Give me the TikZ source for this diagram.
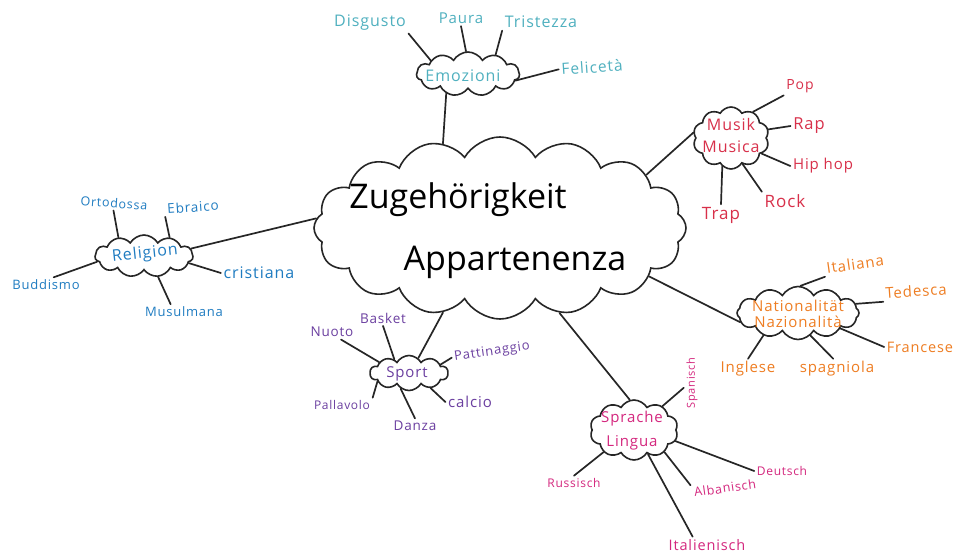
\documentclass[tikz,border=0pt]{standalone}
\usepackage{fontspec}
\setmainfont{Open Sans}
\newfontfamily\hand{Open Sans}[LetterSpace=6]
\usetikzlibrary{shapes.symbols}
\definecolor{emoc}{HTML}{4FB0BF}
\definecolor{musc}{HTML}{D8304A}
\definecolor{relc}{HTML}{1F7CC1}
\definecolor{sportc}{HTML}{6B3FA0}
\definecolor{natc}{HTML}{EE7D22}
\definecolor{sprc}{HTML}{D4277E}
\begin{document}
\begin{tikzpicture}[x=1pt,y=-1pt,
  cl/.style={cloud, draw=black!85, line width=1.6pt, cloud puffs=#1, cloud puff arc=120, cloud ignores aspect, inner sep=0pt},
  ctext/.style n args={2}{inner sep=0pt, align=center, font=\hand\fontsize{#1}{#2}\selectfont},
  lab/.style={inner sep=2.5pt, font=\hand\fontsize{#1}{#1}\selectfont},
  lk/.style={line width=1.7pt, line cap=round, draw=black!85}]
\fill[white] (0,0) rectangle (966,554);
\useasboundingbox (0,0) rectangle (966,554);

% central cloud
\node[cl=16, minimum width=372pt, minimum height=182pt] (main) at (500,228) {};
\node[inner sep=0pt, font=\fontsize{34}{40}\selectfont] (mainA) at (458,200) {Zugehörigkeit};
\node[inner sep=0pt, font=\fontsize{34}{40}\selectfont] (mainB) at (515,262) {Appartenenza};

% Emozioni
\node[cl=11, minimum width=103pt, minimum height=44pt] (emo) at (468,74) {};
\node[ctext={16}{18}, text=emoc] (emoT) at (463,76) {Emozioni};
\node[lab=16, text=emoc] (disg) at (370,23) {Disgusto};
\node[lab=15, text=emoc] (paura) at (461,18) {Paura};
\node[lab=16, text=emoc] (trist) at (541,22) {Tristezza};
\node[lab=15.5, text=emoc, rotate=4] (felic) at (592,67) {Felicetà};
\draw[lk] (emo.160) -- (disg.south east);
\draw[lk] (emo.95) -- (paura.south);
\draw[lk] (emo.35) -- (trist.south west);
\draw[lk] (emo.-8) -- (felic.west);
\draw[lk] (emo.-138) -- (main.124);

% Musik
\node[cl=10, minimum width=76pt, minimum height=62pt] (mus) at (731,138) {};
\node[ctext={16}{22}, text=musc] (musT) at (731,135) {Musik\\Musica};
\node[lab=14, text=musc] (pop) at (800,86) {Pop};
\node[lab=16.5, text=musc] (rap) at (809,126) {Rap};
\node[lab=15, text=musc] (hiphop) at (823,166) {Hip hop};
\node[lab=17, text=musc] (rock) at (785,201) {Rock};
\node[lab=17, text=musc] (trap) at (721,215) {Trap};
\draw[lk] (mus.50) -- (pop.south west);
\draw[lk] (mus.13) -- (rap.west);
\draw[lk] (mus.-27) -- (hiphop.west);
\draw[lk] (mus.-66) -- (rock.north west);
\draw[lk] (mus.-107) -- (trap.north);
\draw[lk] (main.20) -- (mus.172);

% Religion
\node[cl=11, minimum width=98pt, minimum height=42pt] (rel) at (144,256) {};
\node[ctext={16}{18}, text=relc, rotate=6] (relT) at (145,254) {Religion};
\node[lab=12.5, text=relc, rotate=-4] (orto) at (114,203) {Ortodossa};
\node[lab=13.5, text=relc, rotate=4] (ebr) at (193,207) {Ebraico};
\node[lab=16, text=relc] (crist) at (259,273) {cristiana};
\node[lab=13, text=relc] (musul) at (184,312) {Musulmana};
\node[lab=13, text=relc] (budd) at (46,285) {Buddismo};
\draw[lk] (rel.144) -- (orto.south);
\draw[lk] (rel.36) -- (ebr.south west);
\draw[lk] (rel.-9) -- (crist.west);
\draw[lk] (rel.-56) -- (musul.150);
\draw[lk] (rel.187) -- (budd.45);
\draw[lk] (rel.9) -- (main.177);

% Sport
\node[cl=10, minimum width=78pt, minimum height=35pt] (sport) at (409,373) {};
\node[ctext={15}{17}, text=sportc] (sportT) at (407,374) {Sport};
\node[lab=13.5, text=sportc] (nuoto) at (332,332) {Nuoto};
\node[lab=13.5, text=sportc] (basket) at (383,318) {Basket};
\node[lab=13, text=sportc, rotate=8] (patt) at (492,352) {Pattinaggio};
\node[lab=15, text=sportc] (calcio) at (470,402) {calcio};
\node[lab=13.5, text=sportc] (danza) at (415,426) {Danza};
\node[lab=12, text=sportc] (pall) at (342,405) {Pallavolo};
\draw[lk] (sport.160) -- (nuoto.-40);
\draw[lk] (sport.137) -- (basket.south);
\draw[lk] (sport.15) -- (patt.west);
\draw[lk] (sport.-35) -- (calcio.west);
\draw[lk] (sport.-118) -- (danza.north);
\draw[lk] (sport.-165) -- (pall.north east);
\draw[lk] (sport.58) -- (main.-124);

% Nationalitaet
\node[cl=12, minimum width=122pt, minimum height=53pt] (nat) at (798,313) {};
\node[ctext={15}{16}, text=natc] (natT) at (798,314) {Nationalität\\Nazionalità};
\node[lab=15, text=natc, rotate=8] (ital) at (855,264) {Italiana};
\node[lab=15, text=natc, rotate=4] (ted) at (916,291) {Tedesca};
\node[lab=14.5, text=natc] (franc) at (920,347) {Francese};
\node[lab=15, text=natc] (ingl) at (748,369) {Inglese};
\node[lab=15, text=natc] (spag) at (837,369) {spagniola};
\draw[lk] (nat.85) -- (ital.south west);
\draw[lk] (nat.9) -- (ted.south west);
\draw[lk] (nat.-20) -- (franc.west);
\draw[lk] (nat.-147) -- (ingl.north);
\draw[lk] (nat.-61) -- (spag.110);
\draw[lk] (main.-18) -- (nat.189);

% Sprache
\node[cl=10, minimum width=88pt, minimum height=60pt] (spr) at (634,430) {};
\node[ctext={15}{24}, text=sprc] (sprT) at (632,431) {Sprache\\Lingua};
\node[lab=11, text=sprc, rotate=90] (span) at (692,383) {Spanisch};
\node[lab=12, text=sprc] (russ) at (574,483) {Russisch};
\node[lab=12.5, text=sprc, rotate=8] (alb) at (725,488) {Albanisch};
\node[lab=12, text=sprc] (deut) at (782,471) {Deutsch};
\node[lab=14.5, text=sprc] (ital2) at (707,545) {Italienisch};
\draw[lk] (spr.40) -- (span.120);
\draw[lk] (spr.-144) -- (russ.north);
\draw[lk] (spr.-36) -- (alb.north west);
\draw[lk] (spr.-15) -- (deut.west);
\draw[lk] (spr.-60) -- (ital2.150);
\draw[lk] (main.-55) -- (spr.98);
\end{tikzpicture}
\end{document}
